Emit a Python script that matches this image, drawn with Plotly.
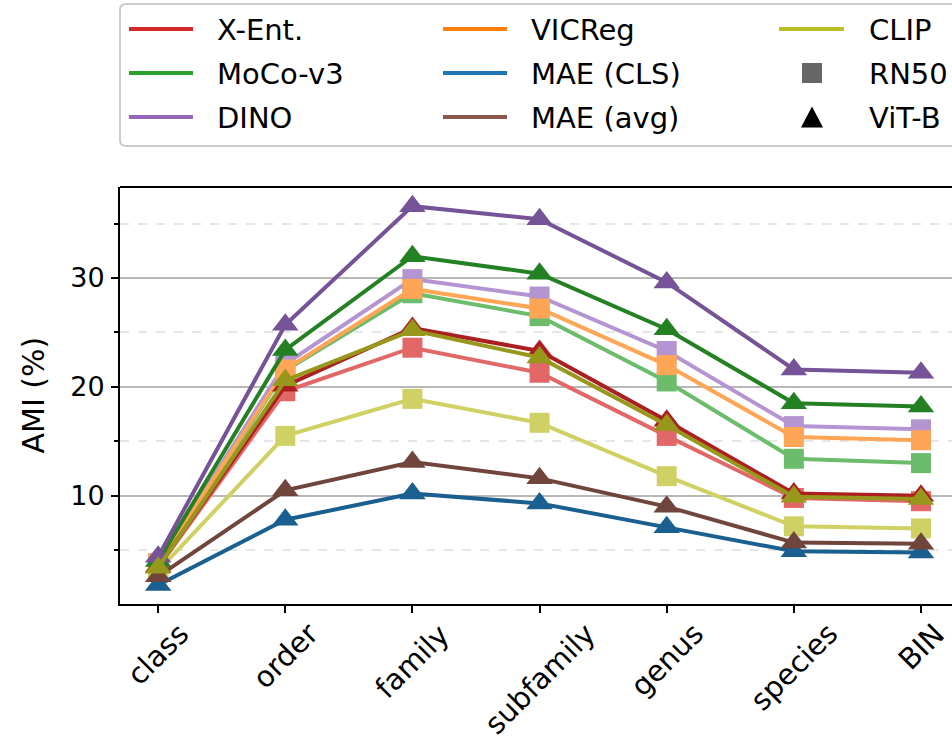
import plotly.graph_objects as go

# ---------------- data ----------------
levels = ["class", "order", "family", "subfamily", "genus", "species", "BIN"]

# RN50 backbones (square markers)
xent_rn50 = [3.4, 19.6, 23.6, 21.3, 15.5, 9.8, 9.5]
moco_rn50 = [3.5, 21.5, 28.6, 26.5, 20.5, 13.4, 13.0]
dino_rn50 = [3.8, 22.1, 29.9, 28.3, 23.3, 16.4, 16.1]
vicreg_rn50 = [3.8, 21.6, 29.0, 27.2, 22.0, 15.4, 15.1]
clip_rn50 = [3.1, 15.5, 18.9, 16.7, 11.8, 7.2, 7.0]

# ViT-B backbones (triangle markers)
xent_vit = [3.5, 20.1, 25.4, 23.3, 16.9, 10.2, 10.0]
moco_vit = [4.0, 23.4, 32.0, 30.4, 25.3, 18.5, 18.2]
dino_vit = [4.4, 25.7, 36.6, 35.4, 29.6, 21.6, 21.3]
maecls_vit = [1.8, 7.8, 10.2, 9.3, 7.1, 4.9, 4.8]
maeavg_vit = [2.6, 10.5, 13.1, 11.6, 9.0, 5.7, 5.6]
clip_vit = [3.4, 20.6, 25.2, 22.7, 16.5, 9.9, 9.7]

y_ticks = [10, 20, 30]

base = {
    "X-Ent.": "#d62728", "VICReg": "#ff7f0e", "CLIP": "#bcbd22",
    "MoCo-v3": "#2ca02c", "MAE (CLS)": "#1f77b4", "MAE (avg)": "#8c564b",
    "DINO": "#9467bd",
}


def hex2rgb(h):
    h = h.lstrip("#")
    return [int(h[i:i + 2], 16) for i in (0, 2, 4)]


def dark(h):
    r, g, b = hex2rgb(h)
    return "rgb(%d,%d,%d)" % (round(r * 0.8), round(g * 0.8), round(b * 0.8))


def light(h):
    r, g, b = hex2rgb(h)
    return "rgb(%d,%d,%d)" % tuple(round(c + 0.3 * (255 - c)) for c in (r, g, b))


rn50_series = [("X-Ent.", xent_rn50), ("MoCo-v3", moco_rn50), ("DINO", dino_rn50),
               ("VICReg", vicreg_rn50), ("CLIP", clip_rn50)]
vit_series = [("X-Ent.", xent_vit), ("MoCo-v3", moco_vit), ("DINO", dino_vit),
              ("MAE (CLS)", maecls_vit), ("MAE (avg)", maeavg_vit), ("CLIP", clip_vit)]

W, H = 952, 742
L, R, T, B = 120, 0, 187, 138
PW, PH = W - L - R, H - T - B

FONT = "DejaVu Sans"

fig = go.Figure()
xs = list(range(len(levels)))
for name, vals in rn50_series:
    c = light(base[name])
    fig.add_trace(go.Scatter(x=xs, y=vals, mode="lines+markers", name=name + " RN50",
                             line=dict(color=c, width=4),
                             marker=dict(symbol="square", size=20, color=c, line=dict(width=0)),
                             showlegend=False))
for name, vals in vit_series:
    c = dark(base[name])
    fig.add_trace(go.Scatter(x=xs, y=vals, mode="lines+markers", name=name + " ViT-B",
                             line=dict(color=c, width=4),
                             marker=dict(symbol="triangle-up", size=23, color=c, line=dict(width=0)),
                             showlegend=False))


def px(xp):
    return (xp - L) / PW


def py(yp):
    return (H - B - yp) / PH


shapes = []
annotations = []

# top spine
shapes.append(dict(type="line", xref="paper", yref="paper", x0=0, x1=1, y0=1, y1=1,
                   line=dict(color="black", width=2)))

# legend box (rounded left corners, right side beyond the page)
x0, x1, y0, y1, r = 120, 962, 4, 146, 6
path = ("M %f,%f L %f,%f L %f,%f L %f,%f Q %f,%f %f,%f L %f,%f Q %f,%f %f,%f Z" % (
    px(x0 + r), py(y0), px(x1), py(y0), px(x1), py(y1), px(x0 + r), py(y1),
    px(x0), py(y1), px(x0), py(y1 - r), px(x0), py(y0 + r),
    px(x0), py(y0), px(x0 + r), py(y0)))
shapes.append(dict(type="path", xref="paper", yref="paper", path=path,
                   line=dict(color="#cccccc", width=2), fillcolor="white"))

legend_cols = [
    (129, 193, 215, ["X-Ent.", "MoCo-v3", "DINO"]),
    (443, 507, 529, ["VICReg", "MAE (CLS)", "MAE (avg)"]),
    (779, 844, 867, ["CLIP", "RN50", "ViT-B"]),
]
row_y = [29, 73, 117]
LEG_FONT = 29
for hx0, hx1, tx, names in legend_cols:
    for yy, nm in zip(row_y, names):
        if nm in base:
            shapes.append(dict(type="line", xref="paper", yref="paper",
                               x0=px(hx0), x1=px(hx1), y0=py(yy), y1=py(yy),
                               line=dict(color=base[nm], width=4)))
        elif nm == "RN50":
            shapes.append(dict(type="rect", xref="paper", yref="paper",
                               x0=px(802), x1=px(822), y0=py(yy - 10), y1=py(yy + 10),
                               line=dict(width=0), fillcolor="#666666"))
        else:
            tri = "M %f,%f L %f,%f L %f,%f Z" % (px(801), py(yy + 10.5), px(823), py(yy + 10.5),
                                                 px(812), py(yy - 10.5))
            shapes.append(dict(type="path", xref="paper", yref="paper", path=tri,
                               line=dict(width=0), fillcolor="black"))
        annotations.append(dict(xref="paper", yref="paper", x=px(tx), y=py(yy + 1), text=nm,
                                showarrow=False, xanchor="left", yanchor="middle",
                                font=dict(family=FONT, size=LEG_FONT, color="black")))

TICK_FONT = 27
XTICK_FONT = 29
# rotated x tick labels, centred on each tick like matplotlib
for i, lab in enumerate(levels):
    annotations.append(dict(xref="x", yref="paper", x=i, y=py(H - B + 10), text=lab,
                            textangle=-45, showarrow=False, xanchor="center", yanchor="top",
                            font=dict(family=FONT, size=XTICK_FONT, color="black")))

# y axis label
annotations.append(dict(xref="paper", yref="paper", x=px(33), y=0.5, text="AMI (%)",
                        textangle=-90, showarrow=False, xanchor="center", yanchor="middle",
                        font=dict(family=FONT, size=30, color="black")))

fig.update_layout(
    width=W, height=H,
    margin=dict(l=L, r=R, t=T, b=B, pad=0),
    paper_bgcolor="white", plot_bgcolor="white",
    font=dict(family=FONT, color="black"),
    shapes=shapes, annotations=annotations,
    showlegend=False,
)
fig.update_xaxes(range=[-0.3, 6.244], tickmode="array", tickvals=xs, ticktext=levels,
                 showticklabels=False, showgrid=False, zeroline=False,
                 showline=True, linecolor="black", linewidth=2,
                 ticks="outside", ticklen=7, tickwidth=2, tickcolor="black")
fig.update_yaxes(range=[0.06, 38.36], tickmode="array", tickvals=y_ticks,
                 showgrid=True, gridcolor="#b8b8b8", gridwidth=2, zeroline=False,
                 showline=True, linecolor="black", linewidth=2,
                 ticks="outside", ticklen=7, tickwidth=2, tickcolor="black",
                 ticklabelstandoff=1,
                 tickfont=dict(family=FONT, size=TICK_FONT, color="black"),
                 minor=dict(tickmode="array", tickvals=[5, 15, 25, 35], ticks="outside",
                            ticklen=4, tickwidth=1.5, tickcolor="black",
                            showgrid=True, gridcolor="#e6e6e6", griddash="dash", gridwidth=2))

fig.write_html("out.html")
